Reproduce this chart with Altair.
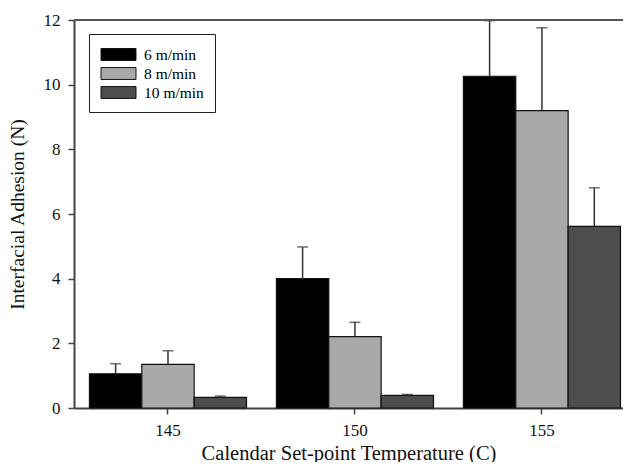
import altair as alt
import pandas as pd

temps = ["145", "145", "145", "150", "150", "150", "155", "155", "155"]
speeds = ["6 m/min", "8 m/min", "10 m/min"] * 3
means = [1.06, 1.35, 0.33, 4.00, 2.21, 0.39, 10.26, 9.20, 5.62]
uppers = [1.37, 1.77, 0.37, 4.98, 2.65, 0.42, 11.98, 11.76, 6.81]

speed_order = ["6 m/min", "8 m/min", "10 m/min"]
speed_colors = ["#000000", "#a9a9a9", "#4d4d4d"]

df = pd.DataFrame({"temp": temps, "speed": speeds, "mean": means, "upper": uppers})

W, H = 549, 388
FONT = "Liberation Serif"

x_enc = alt.X("temp:N", scale=alt.Scale(paddingInner=0.16, paddingOuter=0.048, align=0.86),
              axis=alt.Axis(title="Calendar Set-point Temperature (C)", labelAngle=0,
                            labelFontSize=17, titleFontSize=20.5, labelPadding=8,
                            tickSize=6, titleY=35))
xo_enc = alt.XOffset("speed:N", sort=speed_order, scale=alt.Scale(paddingInner=0, paddingOuter=0))
y_enc = alt.Y("mean:Q", scale=alt.Scale(domain=[0, 12], nice=False),
              axis=alt.Axis(title="Interfacial Adhesion (N)", values=[0, 2, 4, 6, 8, 10, 12],
                            labelFontSize=17, titleFontSize=19.5, tickSize=6, labelPadding=8,
                            grid=False, titleX=-51, titleY=H / 2, titleBaseline="alphabetic"))

base = alt.Chart(df)

bars = base.mark_bar(stroke="#111111", strokeWidth=1.2).encode(
    x=x_enc,
    xOffset=xo_enc,
    y=y_enc,
    color=alt.Color("speed:N", sort=speed_order,
                    scale=alt.Scale(domain=speed_order, range=speed_colors),
                    legend=alt.Legend(title=None, orient="none", legendX=15, legendY=14,
                                      symbolType="M-2,-0.68L2,-0.68L2,0.68L-2,0.68Z",
                                      symbolSize=306, symbolStrokeColor="#111111",
                                      symbolStrokeWidth=1, symbolOffset=9,
                                      labelFontSize=15.5,
                                      labelFont=FONT, strokeColor="#222222",
                                      fillColor="white", padding=11, rowPadding=1,
                                      labelOffset=16)),
)

err = base.mark_rule(color="#333333", strokeWidth=1.5).encode(
    x="temp:N", xOffset=xo_enc, y="mean:Q", y2="upper:Q"
)
caps = base.mark_tick(color="#333333", thickness=1.5, size=11, orient="horizontal").encode(
    x="temp:N", xOffset=xo_enc, y="upper:Q"
)
top = base.mark_rule(color="#555555", strokeWidth=2).encode(
    x=alt.value(0), x2=alt.value(W), y=alt.value(0)
)

chart = alt.layer(bars, err, caps, top).properties(
    width=W, height=H,
    autosize=alt.AutoSizeParams(type="none"),
    padding={"left": 66, "top": 12, "right": 0, "bottom": 54},
).configure_view(stroke=None).configure_axis(
    labelFont=FONT, titleFont=FONT, labelColor="#111111", titleColor="#111111",
    titleFontWeight="normal", domainColor="#444444", domainWidth=2,
    tickColor="#444444", tickWidth=1.5,
).configure_legend(labelFont=FONT)

chart.save("out.html", embed_options={"renderer": "svg", "actions": False})
